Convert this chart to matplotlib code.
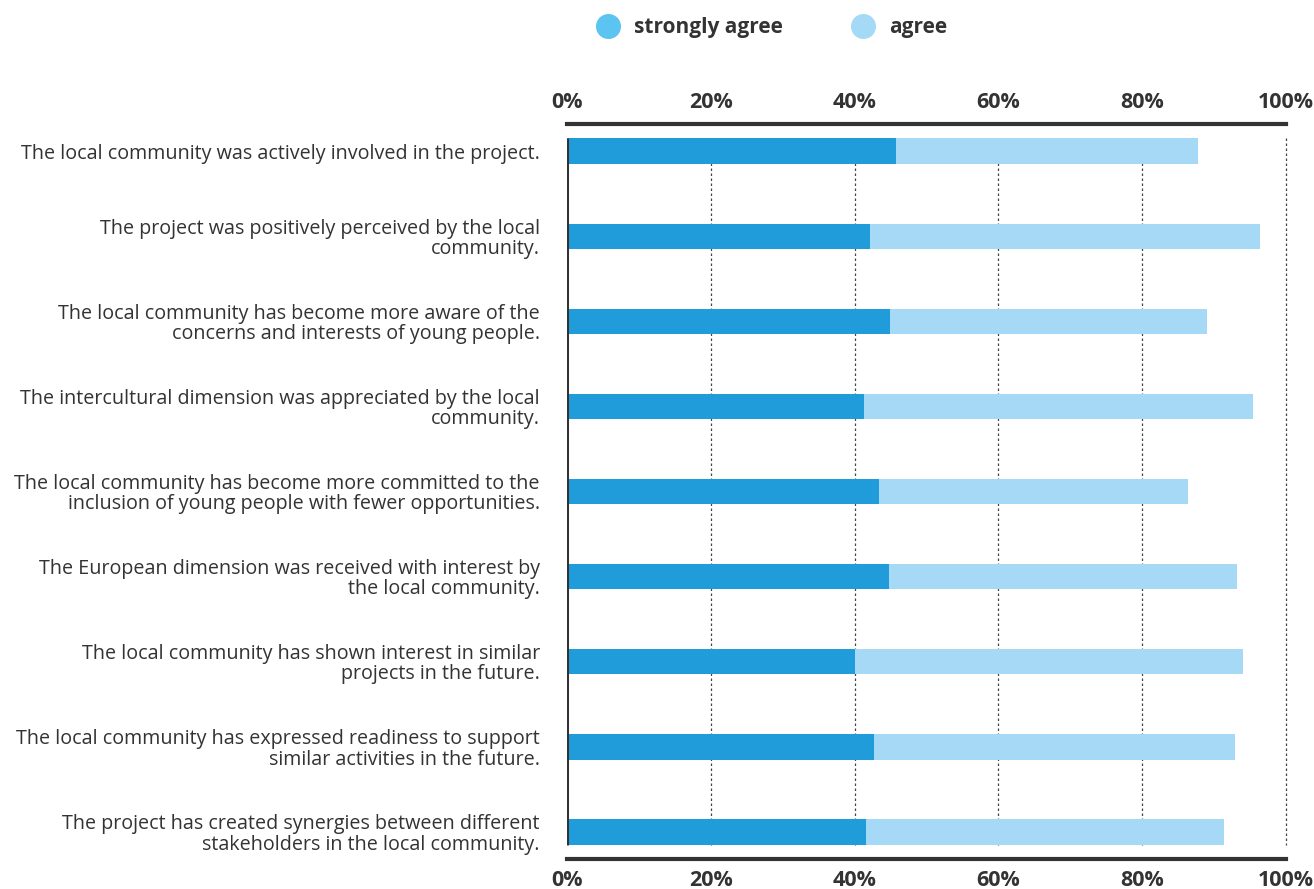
import matplotlib.pyplot as plt
from matplotlib.lines import Line2D

plt.rcParams['font.family'] = ['Open Sans', 'DejaVu Sans']

statements = [
    "The local community was actively involved in the project.",
    "The project was positively perceived by the local\ncommunity.",
    "The local community has become more aware of the\nconcerns and interests of young people.",
    "The intercultural dimension was appreciated by the local\ncommunity.",
    "The local community has become more committed to the\ninclusion of young people with fewer opportunities.",
    "The European dimension was received with interest by\nthe local community.",
    "The local community has shown interest in similar\nprojects in the future.",
    "The local community has expressed readiness to support\nsimilar activities in the future.",
    "The project has created synergies between different\nstakeholders in the local community.",
]
strongly_agree = [45.8, 42.1, 44.9, 41.3, 43.4, 44.8, 40.1, 42.7, 41.6]
agree = [42.0, 54.3, 44.1, 54.1, 43.0, 48.4, 53.9, 50.2, 49.8]
ticks = [0, 20, 40, 60, 80, 100]

c_strong = '#1f9cd9'
c_agree = '#a5d9f5'
txt = '#333333'

fig = plt.figure(figsize=(13.14, 8.89), dpi=100)
ax = fig.add_axes([0.4315, 0.0337, 0.5472, 0.8268])

y = list(range(len(statements)))
ax.barh(y, strongly_agree, height=0.30, color=c_strong, zorder=3)
ax.barh(y, agree, left=strongly_agree, height=0.30, color=c_agree, zorder=3)

# dotted gridlines and left axis line spanning the bars only
ax.vlines(ticks[1:], -0.15, len(y) - 0.85, colors='#444444', linestyles=(0, (2, 2)),
          linewidth=0.9, zorder=1, clip_on=False)
ax.vlines(0, -0.15, len(y) - 0.85, colors='#333333', linewidth=2.2, zorder=4)

ax.set_xlim(0, 100)
ax.set_ylim(len(y) - 0.68, -0.32)

for s in ['left', 'right']:
    ax.spines[s].set_visible(False)
for s in ['top', 'bottom']:
    ax.spines[s].set_color('#333333')
    ax.spines[s].set_linewidth(3)

ax.set_xticks(ticks)
ax.set_xticklabels([f'{t}%' for t in ticks], fontsize=15.5, fontweight='bold', color=txt)
ax.tick_params(axis='x', length=0, pad=8, top=True, labeltop=True)

ax.set_yticks(y)
ax.set_yticklabels(statements, fontsize=14.2, color=txt, linespacing=1.02)
ax.tick_params(axis='y', length=0, pad=19.5)

handles = [
    Line2D([], [], marker='o', linestyle='', markersize=17, color='#5bc4f1'),
    Line2D([], [], marker='o', linestyle='', markersize=17, color='#a5daf7'),
]
fig.legend(handles, ['strongly agree', 'agree'], loc='center', bbox_to_anchor=(0.584, 0.969),
           ncol=2, frameon=False, handletextpad=0.25, columnspacing=2.85,
           prop={'weight': 'bold', 'size': 15}, labelcolor=txt)

fig.savefig('out.png', dpi=100)
